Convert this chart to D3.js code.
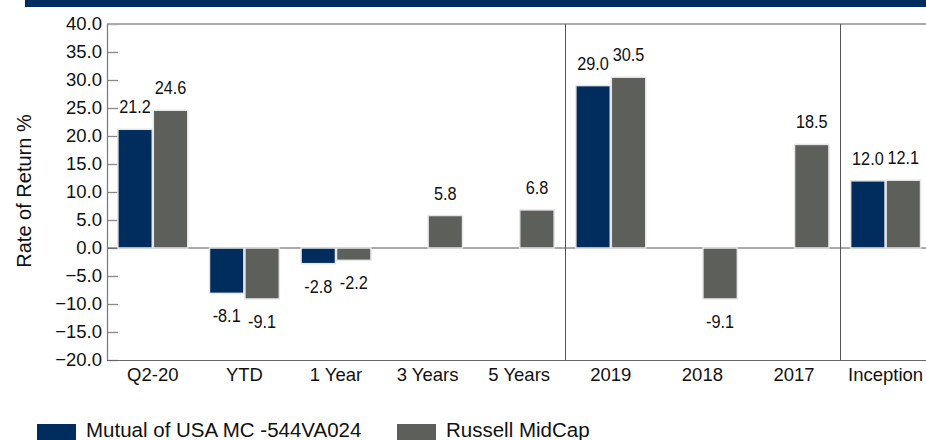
<!DOCTYPE html>
<html>
<head>
<meta charset="utf-8">
<script src="https://cdn.jsdelivr.net/npm/d3@7"></script>
<style>
    body { margin: 0; background: #fff; }
    text { font-family: "Liberation Sans", Arial, sans-serif; fill: #111; }
</style>
</head>
<body>
<script>
const w = 926;
const h = 440;

const categories = ["Q2-20", "YTD", "1 Year", "3 Years", "5 Years", "2019", "2018", "2017", "Inception"];
const seriesNames = ["Mutual of USA MC -544VA024", "Russell MidCap"];
const fundValues = [21.2, -8.1, -2.8, null, null, 29.0, null, null, 12.0];
const indexValues = [24.6, -9.1, -2.2, 5.8, 6.8, 30.5, -9.1, 18.5, 12.1];
const yTicks = [40, 35, 30, 25, 20, 15, 10, 5, 0, -5, -10, -15, -20];
const separatorsBefore = ["2019", "Inception"];
const colors = ["#002d5e", "#5d5f5b"];

const plotLeft = 107;
const plotTop = 24;
const plotBottom = 360;

const svg = d3.select("body").append("svg").attr("width", w).attr("height", h);

// title bar strip at the top
svg.append("rect")
    .attr("x", 25).attr("y", 0)
    .attr("width", w - 25).attr("height", 7)
    .attr("fill", "#002d5f");

const xScale = d3.scaleBand()
    .domain(categories)
    .range([plotLeft, plotLeft + 9 * 91.6])
    .paddingInner(0.214)
    .paddingOuter(0.107);

const xSub = d3.scaleBand()
    .domain([0, 1])
    .range([0, xScale.bandwidth()])
    .padding(0.03);

const yScale = d3.scaleLinear()
    .domain([-20, 40])
    .range([plotBottom, plotTop]);

// y ticks (inside) and labels
const yAxis = d3.axisLeft(yScale)
    .tickValues(yTicks)
    .tickSize(-11)
    .tickPadding(5)
    .tickFormat(d3.format(".1f"));

const yg = svg.append("g")
    .attr("transform", "translate(" + plotLeft + ",0)")
    .call(yAxis);
yg.select(".domain").remove();
yg.selectAll(".tick line").attr("stroke", "#888").attr("stroke-width", 1.3);
yg.selectAll(".tick text")
    .attr("font-size", 18.5)
    .attr("font-family", "Liberation Sans, Arial, sans-serif")
    .attr("fill", "#111");

// frame lines
svg.append("line")
    .attr("x1", plotLeft).attr("x2", w)
    .attr("y1", plotTop).attr("y2", plotTop)
    .attr("stroke", "#aaa").attr("stroke-width", 2);

svg.append("line")
    .attr("x1", plotLeft).attr("x2", w)
    .attr("y1", yScale(0)).attr("y2", yScale(0))
    .attr("stroke", "#555").attr("stroke-width", 1);

separatorsBefore.forEach(function (c) {
    const x = Math.round(xScale(c) - xScale.step() * xScale.paddingInner() / 2) + 0.5;
    svg.append("line")
        .attr("x1", x).attr("x2", x)
        .attr("y1", plotTop).attr("y2", plotBottom)
        .attr("stroke", "#555").attr("stroke-width", 1);
});

svg.append("line")
    .attr("x1", plotLeft + 0.5).attr("x2", plotLeft + 0.5)
    .attr("y1", plotTop).attr("y2", plotBottom)
    .attr("stroke", "#777").attr("stroke-width", 1.2);

svg.append("line")
    .attr("x1", plotLeft).attr("x2", w)
    .attr("y1", plotBottom + 0.5).attr("y2", plotBottom + 0.5)
    .attr("stroke", "#666").attr("stroke-width", 1.2);

// bars
const rows = [];
categories.forEach(function (c, i) {
    [fundValues[i], indexValues[i]].forEach(function (v, s) {
        if (v !== null) rows.push({ cat: c, s: s, v: v });
    });
});

svg.selectAll("rect.bar")
    .data(rows)
    .enter()
    .append("rect")
    .attr("class", "bar")
    .attr("x", function (d) { return xScale(d.cat) + xSub(d.s); })
    .attr("y", function (d) { return yScale(Math.max(0, d.v)); })
    .attr("width", xSub.bandwidth())
    .attr("height", function (d) { return Math.abs(yScale(d.v) - yScale(0)); })
    .attr("fill", function (d) { return colors[d.s]; })
    .attr("stroke", "#e6e6e6")
    .attr("stroke-width", 1.5);

// value labels, slightly condensed like the original
svg.selectAll("text.val")
    .data(rows)
    .enter()
    .append("text")
    .attr("class", "val")
    .attr("transform", function (d) {
        const x = xScale(d.cat) + xSub(d.s) + xSub.bandwidth() / 2;
        const y = d.v >= 0 ? yScale(d.v) - 16 : yScale(d.v) + 29;
        return "translate(" + x + "," + y + ")scale(0.88,1)";
    })
    .attr("text-anchor", "middle")
    .attr("font-size", 18.5)
    .text(function (d) { return d.v.toFixed(1); });

// x labels
svg.selectAll("text.cat")
    .data(categories)
    .enter()
    .append("text")
    .attr("class", "cat")
    .attr("x", function (d) { return xScale(d) + xScale.bandwidth() / 2; })
    .attr("y", 381)
    .attr("text-anchor", "middle")
    .attr("font-size", 18.5)
    .text(function (d) { return d; });

// y title
svg.append("text")
    .attr("transform", "translate(31," + 191 + ")rotate(-90)")
    .attr("text-anchor", "middle")
    .attr("font-size", 20)
    .text("Rate of Return %");

// legend
const legendX = [37, 397];
seriesNames.forEach(function (name, i) {
    svg.append("rect")
        .attr("x", legendX[i]).attr("y", 424)
        .attr("width", 39).attr("height", 18)
        .attr("fill", colors[i]);
    svg.append("text")
        .attr("x", legendX[i] + 49).attr("y", 437)
        .attr("font-size", 20.5)
        .text(name);
});
</script>
</body>
</html>
